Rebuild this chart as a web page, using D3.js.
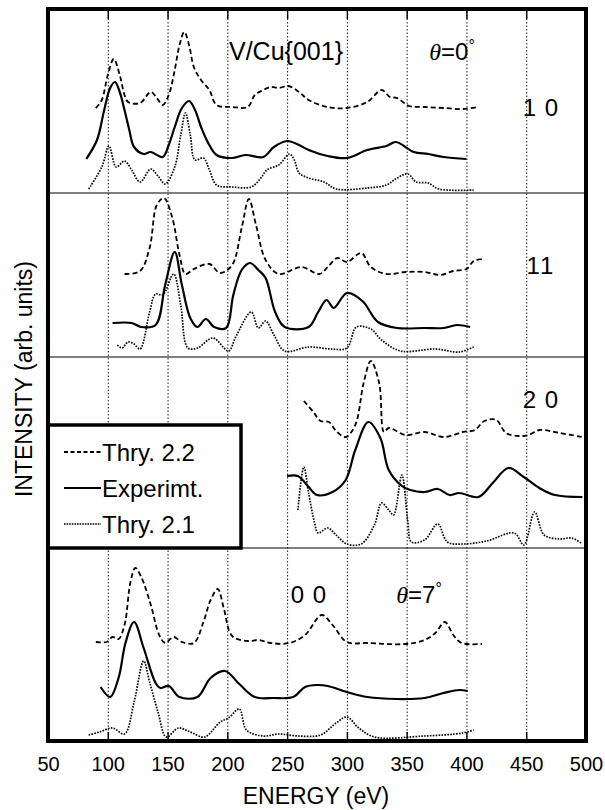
<!DOCTYPE html>
<html><head><meta charset="utf-8">
<script src="https://cdn.jsdelivr.net/npm/d3@7"></script>
<style>body{margin:0;background:#fff}svg{display:block}</style>
</head><body><svg id="c" width="605" height="810"></svg>
<script>
// ---------- DATA (energy in eV, intensity in arb. units per panel) ----------
const energyTicks = [50,100,150,200,250,300,350,400,450,500];
const gridEnergies = [100,150,200,250,300,350,400,450];
const panelLabels = ["1 0","11","2 0","0 0"];
const seriesNames = ["Thry. 2.2","Experimt.","Thry. 2.1"];

// panel "10"
const p10_thry22_E = [90,95,100,105,110,114,117,127,136,141,146,151,156,160,164,168,172,178,185,191,204,217,223,230,236,243,251,260,268,284,300,317,329,336,342,352,365,381,397,410];
const p10_thry22_I = [85,93,118,134,118,98,91,90,101,95,88,98,123,148,161,148,126,113,103,88,86,86,98,103,106,105,107,101,93,86,85,91,103,96,95,87,86,85,84,86];
const p10_exp_E = [82,91,97,102,106,110,114,118,122,130,136,146,151,156,162,168,173,178,184,191,204,215,230,239,250,260,268,284,300,317,333,341,356,368,381,400];
const p10_exp_I = [34,53,83,105,111,101,83,63,46,39,41,36,48,66,85,92,83,66,50,38,35,38,36,46,52,48,43,37,35,43,47,51,41,39,36,34];
const p10_thry21_E = [84,95,101,107,114,120,127,136,142,148,156,161,165,169,173,180,185,191,204,220,228,233,243,252,256,260,268,281,291,317,333,342,351,358,368,377,406];
const p10_thry21_I = [4,26,47,26,32,23,11,24,17,9,26,58,80,58,33,35,23,8,6,6,15,23,28,39,33,20,15,11,4,5,8,15,19,11,10,4,3];

// panel "11"
const p11_thry22_E = [114,127,135,141,147,154,160,165,172,185,194,204,212,218,224,232,243,262,277,284,292,300,312,320,333,349,365,378,389,400,406,413];
const p11_thry22_I = [83,86,109,152,159,139,102,83,88,93,84,92,129,158,132,97,83,90,83,90,99,95,104,90,83,85,85,82,86,88,96,98];
const p11_exp_E = [104,120,128,140,148,156,162,169,175,182,189,199,205,212,219,226,232,240,248,268,276,283,289,300,313,326,342,365,381,392,403];
const p11_exp_I = [34,34,30,32,72,105,72,39,30,38,30,29,62,87,94,87,79,45,30,30,45,57,49,64,56,35,29,29,29,32,30];
const p11_thry21_E = [108,112,117,122,127,135,140,146,155,161,167,175,188,201,207,220,226,232,239,248,268,287,300,308,320,329,345,374,394,406];
const p11_thry21_I = [12,9,15,13,8,45,63,62,83,52,9,9,19,6,20,45,29,36,22,6,10,8,9,30,28,17,6,8,5,10];

// panel "20"
const p20_thry22_E = [264,272,278,285,291,299,307,314,320,327,331,335,349,365,381,397,407,415,425,433,444,452,461,478,497];
const p20_thry22_I = [147,136,127,126,117,111,123,165,187,165,116,120,113,116,111,116,118,127,128,115,112,113,118,115,111];
const p20_exp_E = [250,259,268,275,288,299,307,318,328,335,346,353,365,376,386,394,410,422,435,448,461,474,497];
const p20_exp_I = [72,72,61,53,56,68,98,126,110,78,62,58,56,59,53,55,51,65,80,71,60,53,51];
const p20_thry21_E = [259,264,268,273,276,284,291,300,312,323,329,335,339,346,351,354,365,376,384,397,417,440,448,457,465,478,488,497];
const p20_thry21_I = [38,81,55,25,15,20,13,4,4,23,45,38,33,73,26,6,8,24,6,4,7,15,3,36,13,9,10,4];

// panel "00"
const p00_thry22_E = [90,99,104,109,114,119,123,128,136,143,148,155,162,172,180,186,192,197,204,217,226,236,252,265,279,288,300,317,349,365,374,382,389,396,413];
const p00_thry22_I = [99,99,104,102,116,159,173,164,136,106,98,104,99,98,119,141,152,133,105,100,101,98,98,106,126,116,99,98,97,101,108,119,106,98,97];
const p00_exp_E = [94,102,109,115,122,130,140,144,151,160,175,186,198,210,223,239,255,265,275,284,300,317,342,365,381,394,401];
const p00_exp_I = [54,44,63,99,119,93,58,53,55,44,44,63,70,57,44,43,44,54,56,55,49,44,42,43,48,51,50];
const p00_thry21_E = [84,93,104,114,122,130,135,142,149,159,169,181,194,201,210,216,230,243,259,278,291,300,310,323,365,397,406];
const p00_thry21_I = [6,9,13,7,39,80,59,29,4,13,9,4,19,23,32,11,5,7,5,6,18,24,13,4,5,8,11];

const panels = [
  {label: panelLabels[0], series: [[p10_thry22_E,p10_thry22_I],[p10_exp_E,p10_exp_I],[p10_thry21_E,p10_thry21_I]]},
  {label: panelLabels[1], series: [[p11_thry22_E,p11_thry22_I],[p11_exp_E,p11_exp_I],[p11_thry21_E,p11_thry21_I]]},
  {label: panelLabels[2], series: [[p20_thry22_E,p20_thry22_I],[p20_exp_E,p20_exp_I],[p20_thry21_E,p20_thry21_I]]},
  {label: panelLabels[3], series: [[p00_thry22_E,p00_thry22_I],[p00_exp_E,p00_exp_I],[p00_thry21_E,p00_thry21_I]]}
];

// ---------- LAYOUT ----------
const svg = d3.select("#c");
const X0 = 48, X1 = 586, Y0 = 9, Y1 = 741;
const edges = [Y0, 193, 357, 548, Y1];
const x = d3.scaleLinear().domain([50, 500]).range([X0, X1]);
const FONT = "'Liberation Sans', Arial, Helvetica, sans-serif";

const styles = [
  {w: 1.8, dash: "5,3"},
  {w: 2.2, dash: null},
  {w: 1.7, dash: "1.6,1.3"}
];

// gridlines
const grid = svg.append("g").attr("transform", `translate(0,${Y1})`)
  .call(d3.axisBottom(x).tickValues(gridEnergies).tickSize(-(Y1 - Y0)).tickFormat(""));
grid.select(".domain").remove();
grid.selectAll("line").attr("stroke", "#000").attr("stroke-width", 0.9).attr("stroke-dasharray", "1.5,2");

// solid tick marks top & bottom
const tb = svg.append("g").attr("transform", `translate(0,${Y1})`)
  .call(d3.axisBottom(x).tickValues(gridEnergies).tickSize(-9).tickFormat(""));
tb.select(".domain").remove();
tb.selectAll("line").attr("stroke", "#000").attr("stroke-width", 1.4);
const tt = svg.append("g").attr("transform", `translate(0,${Y0})`)
  .call(d3.axisTop(x).tickValues(gridEnergies).tickSize(-10).tickFormat(""));
tt.select(".domain").remove();
tt.selectAll("line").attr("stroke", "#000").attr("stroke-width", 1.4);

// separators
edges.slice(1, 4).forEach(e => {
  svg.append("line").attr("x1", X0).attr("x2", X1).attr("y1", e).attr("y2", e)
    .attr("stroke", "#000").attr("stroke-width", 1.2);
});

// curves
panels.forEach((p, i) => {
  const y = d3.scaleLinear().domain([0, edges[i + 1] - edges[i]]).range([edges[i + 1], edges[i]]);
  const line = d3.line().x(d => x(d[0])).y(d => y(d[1])).curve(d3.curveCatmullRom.alpha(0.5));
  p.series.forEach((s, k) => {
    const pts = s[0].map((e, j) => [e, s[1][j]]);
    const path = svg.append("path").datum(pts).attr("d", line)
      .attr("fill", "none").attr("stroke", "#000").attr("stroke-width", styles[k].w)
      .attr("stroke-linejoin", "round");
    if (styles[k].dash) path.attr("stroke-dasharray", styles[k].dash);
  });
});

// panel labels
const labelPos = [[541, 116], [541, 274], [541, 408], [309, 603]];
panels.forEach((p, i) => {
  svg.append("text").attr("x", labelPos[i][0]).attr("y", labelPos[i][1])
    .attr("text-anchor", "middle").attr("font-family", FONT).attr("font-size", 24)
    .attr("letter-spacing", i === 1 ? 2 : 1).text(p.label);
});

// title and angles
svg.append("text").attr("x", 286).attr("y", 60).attr("text-anchor", "middle")
  .attr("font-family", FONT).attr("font-size", 25).text("V/Cu{001}");
function theta(xc, yb, deg) {
  const t = svg.append("text").attr("x", xc).attr("y", yb).attr("text-anchor", "middle")
    .attr("font-family", FONT).attr("font-size", 24);
  t.append("tspan").attr("font-family", "'Liberation Serif', 'Times New Roman', serif").attr("font-style", "italic").text("θ");
  t.append("tspan").text("=" + deg);
  t.append("tspan").attr("font-size", 16).attr("dy", -9).text("°");
}
theta(452, 60, "0");
theta(419, 603, "7");

// frame
svg.append("rect").attr("x", X0).attr("y", Y0).attr("width", X1 - X0).attr("height", Y1 - Y0)
  .attr("fill", "none").attr("stroke", "#000").attr("stroke-width", 4);

// legend
const lg = svg.append("g");
lg.append("rect").attr("x", X0).attr("y", 425).attr("width", 193).attr("height", edges[3] - 425)
  .attr("fill", "#fff").attr("stroke", "#000").attr("stroke-width", 3.5);
seriesNames.forEach((n, k) => {
  const yb = 461 + k * 36;
  const l = lg.append("line").attr("x1", 64).attr("x2", 101).attr("y1", yb - 9).attr("y2", yb - 9)
    .attr("stroke", "#000").attr("stroke-width", styles[k].w);
  if (styles[k].dash) l.attr("stroke-dasharray", k === 0 ? "4,2.5" : "1.6,1");
  lg.append("text").attr("x", 102).attr("y", yb).attr("font-family", FONT).attr("font-size", 24).text(n);
});
// redraw left frame edge over legend
svg.append("line").attr("x1", X0).attr("x2", X0).attr("y1", Y0).attr("y2", Y1).attr("stroke", "#000").attr("stroke-width", 4);

// x axis labels
const xa = svg.append("g").attr("transform", `translate(0,${Y1})`)
  .call(d3.axisBottom(x).tickValues(energyTicks).tickSize(0).tickPadding(16).tickFormat(d3.format("d")));
xa.select(".domain").remove();
xa.selectAll("text").attr("font-family", FONT).attr("font-size", 20).attr("fill", "#000");

svg.append("text").attr("x", 316).attr("y", 804).attr("text-anchor", "middle")
  .attr("font-family", FONT).attr("font-size", 23).text("ENERGY (eV)");
svg.append("text").attr("transform", "translate(32,379) rotate(-90)").attr("text-anchor", "middle")
  .attr("font-family", FONT).attr("font-size", 23).text("INTENSITY (arb. units)");
</script>
</body></html>
